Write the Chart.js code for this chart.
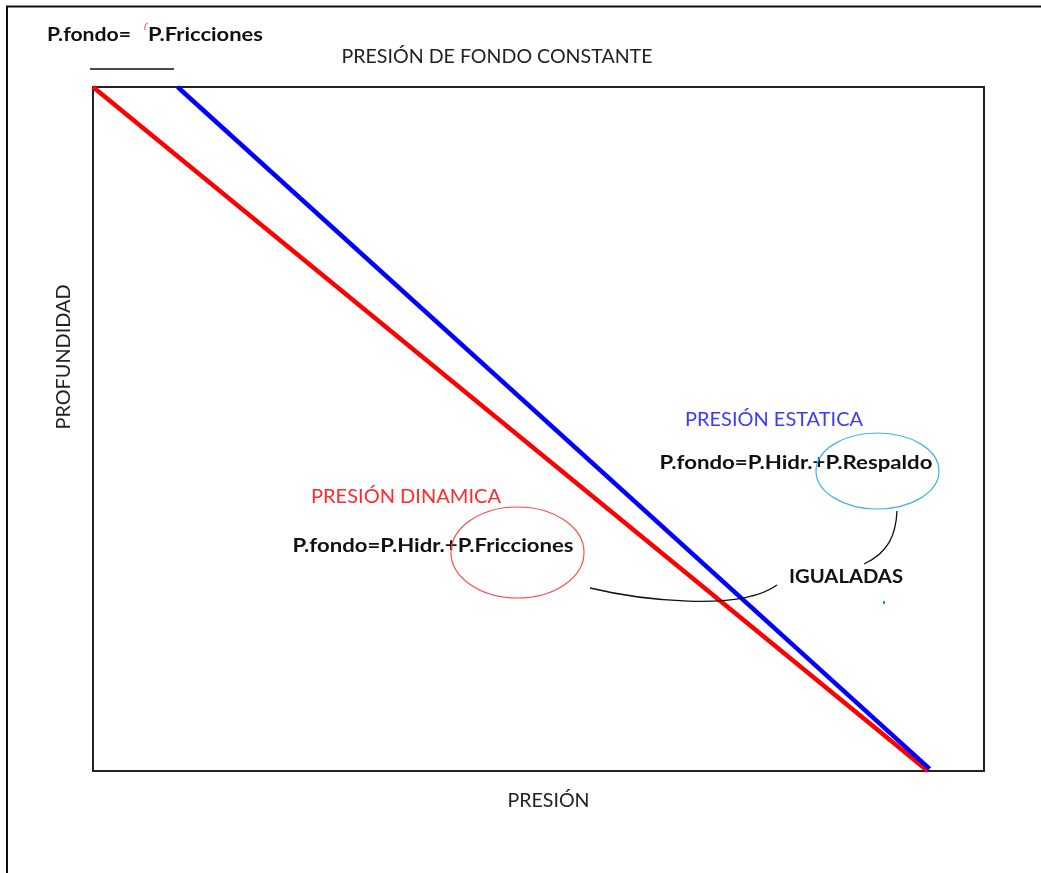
<!DOCTYPE html>
<html>
<head>
<meta charset="utf-8">
<script src="https://cdn.jsdelivr.net/npm/chart.js@4"></script>
<style>
  html, body { margin: 0; padding: 0; background: #fff; }
  canvas { display: block; }
</style>
</head>
<body>
<canvas id="grafico" width="1041" height="873"></canvas>
<script>
// datos (presion en x, profundidad en y, 0..100)
const presionDinamica = [0, 93.7];
const profundidadDinamica = [0, 100];
const presionEstatica = [9.5, 93.9];
const profundidadEstatica = [0, 99.7];

const titulo = 'PRESIÓN DE FONDO CONSTANTE';
const tituloX = 'PRESIÓN';
const tituloY = 'PROFUNDIDAD';

function puntos(xs, ys) {
    return xs.map((x, i) => ({ x: x, y: ys[i] }));
}

// texto ajustado a un ancho (cx, cy = centro)
function texto(ctx, t, cx, cy, ancho, size, bold, color, rot) {
    ctx.save();
    ctx.font = (bold ? 'bold ' : '') + size + 'px Lato, "Open Sans", sans-serif';
    ctx.fillStyle = color;
    ctx.textAlign = 'center';
    ctx.textBaseline = 'middle';
    ctx.translate(cx, cy);
    if (rot) ctx.rotate(rot);
    const w = ctx.measureText(t).width;
    ctx.scale(ancho / w, 1);
    ctx.fillText(t, 0, 0);
    ctx.restore();
}

function elipse(ctx, cx, cy, rx, ry, color) {
    ctx.save();
    ctx.strokeStyle = color;
    ctx.lineWidth = 1.2;
    ctx.beginPath();
    ctx.ellipse(cx, cy, rx, ry, 0, 0, Math.PI * 2);
    ctx.stroke();
    ctx.restore();
}

const dibujo = {
    id: 'dibujo',
    beforeDraw(chart) {
        const ctx = chart.ctx;
        const a = chart.chartArea;
        ctx.save();
        ctx.fillStyle = '#fff';
        ctx.fillRect(0, 0, chart.width, chart.height);
        // marco exterior
        ctx.strokeStyle = '#111';
        ctx.lineWidth = 2;
        ctx.beginPath();
        ctx.moveTo(1041, 6.5);
        ctx.lineTo(7, 6.5);
        ctx.lineTo(7, 873);
        ctx.stroke();
        // caja del grafico
        ctx.strokeStyle = '#222';
        ctx.lineWidth = 2;
        ctx.strokeRect(a.left, a.top, a.right - a.left, a.bottom - a.top);
        ctx.restore();

        texto(ctx, titulo, 497, 57, 311, 19, false, '#222');
        texto(ctx, tituloX, (a.left + a.right) / 2 + 10, 801, 82, 19, false, '#222');
        texto(ctx, tituloY, 64, 357, 145, 19, false, '#222', -Math.PI / 2);

        texto(ctx, 'P.fondo=', 89, 35, 84, 19, true, '#111');
        texto(ctx, 'P.Fricciones', 205.5, 35, 115, 19, true, '#111');
        ctx.save();
        ctx.strokeStyle = '#f44';
        ctx.lineWidth = 1;
        ctx.beginPath();
        ctx.moveTo(145, 30);
        ctx.quadraticCurveTo(144, 24, 148, 23);
        ctx.stroke();
        ctx.strokeStyle = '#111';
        ctx.lineWidth = 1.5;
        ctx.beginPath();
        ctx.moveTo(90, 69);
        ctx.lineTo(174, 69);
        ctx.stroke();
        ctx.restore();
    },
    afterDatasetsDraw(chart) {
        const ctx = chart.ctx;
        texto(ctx, 'PRESIÓN ESTATICA', 774, 420, 178, 19, false, '#3b3bff');
        texto(ctx, 'P.fondo=P.Hidr.+P.Respaldo', 796, 463, 273, 19, true, '#111');
        texto(ctx, 'PRESIÓN DINAMICA', 406, 497, 190, 19, false, '#ff2a2a');
        texto(ctx, 'P.fondo=P.Hidr.+P.Fricciones', 433, 546, 281, 19, true, '#111');
        texto(ctx, 'IGUALADAS', 846, 577, 114, 19, true, '#111');

        elipse(ctx, 517.5, 552.5, 66.5, 45.5, '#ff4a4a');
        elipse(ctx, 877.5, 471, 61.5, 38, '#3fb2ea');

        ctx.save();
        ctx.strokeStyle = '#111';
        ctx.lineWidth = 1.3;
        ctx.beginPath();
        ctx.moveTo(897, 511);
        ctx.bezierCurveTo(896, 535, 888, 553, 864, 564);
        ctx.stroke();
        ctx.beginPath();
        ctx.moveTo(590, 588);
        ctx.bezierCurveTo(640, 600, 740, 612, 777, 585);
        ctx.stroke();
        ctx.fillStyle = '#1e8fd0';
        ctx.fillRect(883, 601, 2, 3);
        ctx.restore();
    }
};

new Chart(document.getElementById('grafico'), {
    type: 'scatter',
    data: {
        datasets: [
            {
                label: 'Presión estática',
                data: puntos(presionEstatica, profundidadEstatica),
                showLine: true,
                borderColor: '#0000ff',
                borderWidth: 4.5,
                pointRadius: 0,
                clip: false
            },
            {
                label: 'Presión dinámica',
                data: puntos(presionDinamica, profundidadDinamica),
                showLine: true,
                borderColor: '#ff0000',
                borderWidth: 4.5,
                pointRadius: 0,
                clip: false
            }
        ]
    },
    options: {
        responsive: false,
        animation: false,
        layout: { padding: { left: 93, top: 87, right: 57, bottom: 102 } },
        scales: {
            x: { type: 'linear', min: 0, max: 100, display: false },
            y: { type: 'linear', min: 0, max: 100, reverse: true, display: false }
        },
        plugins: {
            legend: { display: false },
            tooltip: { enabled: false }
        }
    },
    plugins: [dibujo]
});
</script>
</body>
</html>
